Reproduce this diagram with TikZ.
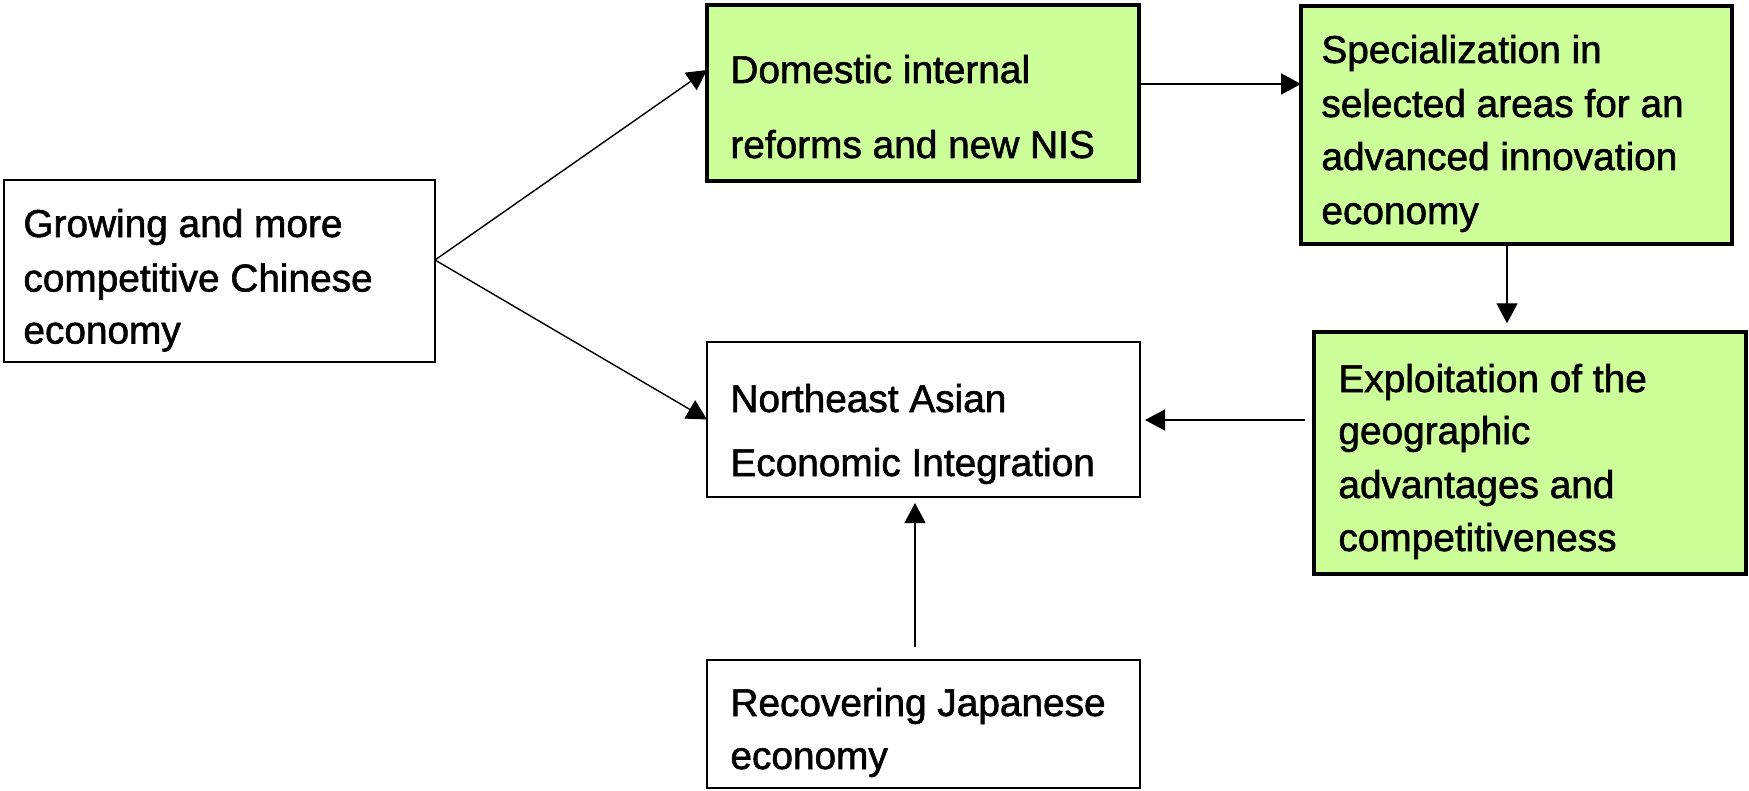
\documentclass[tikz,border=0pt]{standalone}
\usepackage{fontspec}
\setmainfont[FakeBold=1.5]{Liberation Sans}
\usetikzlibrary{arrows.meta}
\definecolor{boxgreen}{RGB}{204,255,153}
\begin{document}
\begin{tikzpicture}[x=0.5pt,y=-0.5pt,
  plainbox/.style={draw=black, line width=0.8pt, fill=white, rectangle, inner sep=0pt, outer sep=0pt},
  greenbox/.style={draw=black, line width=2pt, fill=boxgreen, rectangle, inner sep=0pt, outer sep=0pt},
  txt/.style={anchor=base west, inner sep=0pt, font=\fontsize{19.4pt}{23pt}\selectfont},
  arr/.style={line width=0.7pt, -{Triangle[length=10pt,width=10.5pt]}}]
\useasboundingbox (0,0) rectangle (1749,791);

% boxes
\node[plainbox, minimum width=215.5pt, minimum height=91pt] (A) at (219.5,271) {};
\node[greenbox, minimum width=216pt, minimum height=88pt] (B) at (923,93) {};
\node[greenbox, minimum width=215.5pt, minimum height=119pt] (C) at (1516.5,125) {};
\node[plainbox, minimum width=216.5pt, minimum height=77.5pt] (D) at (923.5,419.5) {};
\node[greenbox, minimum width=216pt, minimum height=120.75pt] (E) at (1530,453) {};
\node[plainbox, minimum width=216.5pt, minimum height=64pt] (F) at (923.5,724) {};

% texts
\node[txt] (a1) at (23,237) {Growing and more};
\node[txt] (a2) at (23,291.5) {competitive Chinese};
\node[txt] (a3) at (23,343.5) {economy};

\node[txt] (b1) at (730,83) {Domestic internal};
\node[txt] (b2) at (730,158) {reforms and new NIS};

\node[txt] (c1) at (1321,63) {Specialization in};
\node[txt] (c2) at (1321,117) {selected areas for an};
\node[txt] (c3) at (1321,170) {advanced innovation};
\node[txt] (c4) at (1321,224) {economy};

\node[txt] (d1) at (730,412) {Northeast Asian};
\node[txt] (d2) at (730,476) {Economic Integration};

\node[txt] (e1) at (1338,392) {Exploitation of the};
\node[txt] (e2) at (1338,444) {geographic};
\node[txt] (e3) at (1338,498) {advantages and};
\node[txt] (e4) at (1338,551) {competitiveness};

\node[txt] (f1) at (730,716) {Recovering Japanese};
\node[txt] (f2) at (730,769) {economy};

% connectors
\coordinate (Aout) at ([yshift=5.5pt]A.east);
\draw[arr] (Aout) -- ([yshift=11.5pt]B.west);
\draw[arr] (Aout) -- (D.west);
\draw[arr] ([yshift=4.5pt]B.east) -- ([yshift=20.5pt]C.west);
\draw[arr, shorten >=4.5pt] ([xshift=-4.75pt]C.south) -- ([xshift=-11.5pt]E.north);
\draw[arr, shorten <=4.5pt, shorten >=2.5pt] ([yshift=16.5pt]E.west) -- ([yshift=16.5pt]E.west -| D.east);
\draw[arr, shorten <=6.5pt, shorten >=3pt] ([xshift=-4.25pt]F.north) -- ([xshift=-4.25pt]D.south);
\end{tikzpicture}
\end{document}
